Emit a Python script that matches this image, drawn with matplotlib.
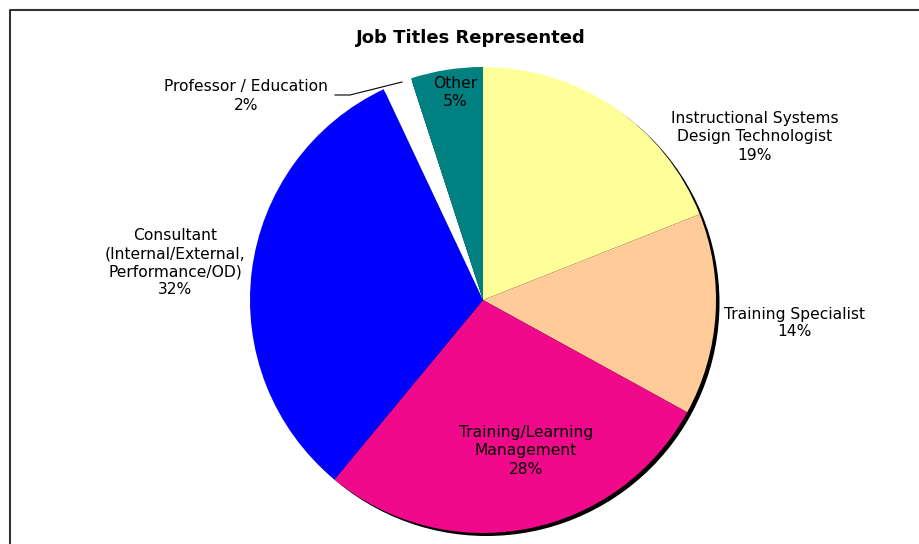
import matplotlib
matplotlib.use("Agg")
import matplotlib.pyplot as plt
from matplotlib.patches import Circle
from matplotlib.lines import Line2D

# Share of respondents by job title
categories = [
    "Instructional Systems\nDesign Technologist",
    "Training Specialist",
    "Training/Learning\nManagement",
    "Consultant\n(Internal/External,\nPerformance/OD)",
    "Professor / Education",
    "Other",
]
shares = [19, 14, 28, 32, 2, 5]
colors = ["#FFFF99", "#FFCC99", "#F0098A", "#0000FF", "#FFFFFF", "#008080"]

W, H = 920, 544
fig = plt.figure(figsize=(W / 100, H / 100), dpi=100)
ax = fig.add_axes([0, 0, 1, 1])

cx, cy, r = 483, H - 300, 233

# drop shadow behind the pie
ax.add_patch(Circle((cx + 3.5, cy - 3), r, facecolor="black", edgecolor="none", zorder=1))

wedges, _ = ax.pie(shares, colors=colors, startangle=90, counterclock=False,
                   center=(cx, cy), radius=r,
                   wedgeprops=dict(linewidth=0, edgecolor="none"))
for w in wedges:
    w.set_zorder(2)

ax.set_xlim(0, W)
ax.set_ylim(0, H)
ax.set_aspect("equal")
ax.axis("off")

fs = 11.2
label_pos = [(755, 137), (795, 323), (526, 451), (175, 263), (246, 96), (455, 92)]
for name, val, (x, y) in zip(categories, shares, label_pos):
    ax.text(x, H - y, f"{name}\n{val}%", ha="center", va="center", fontsize=fs,
            family="DejaVu Sans", linespacing=1.25, zorder=5)

# leader line for the small slice
ax.add_line(Line2D([335, 350, 402], [H - 95, H - 95, H - 82], color="black", lw=0.8, zorder=5))

ax.text(471, H - 38, "Job Titles Represented", ha="center", va="center",
        fontsize=13, fontweight="bold", family="DejaVu Sans", zorder=5)

# outer frame (left and top edges visible)
ax.add_line(Line2D([10, 10, W + 5], [-5, H - 10, H - 10], color="#333333", lw=1.5, zorder=6))

fig.savefig("out.png", dpi=100)
